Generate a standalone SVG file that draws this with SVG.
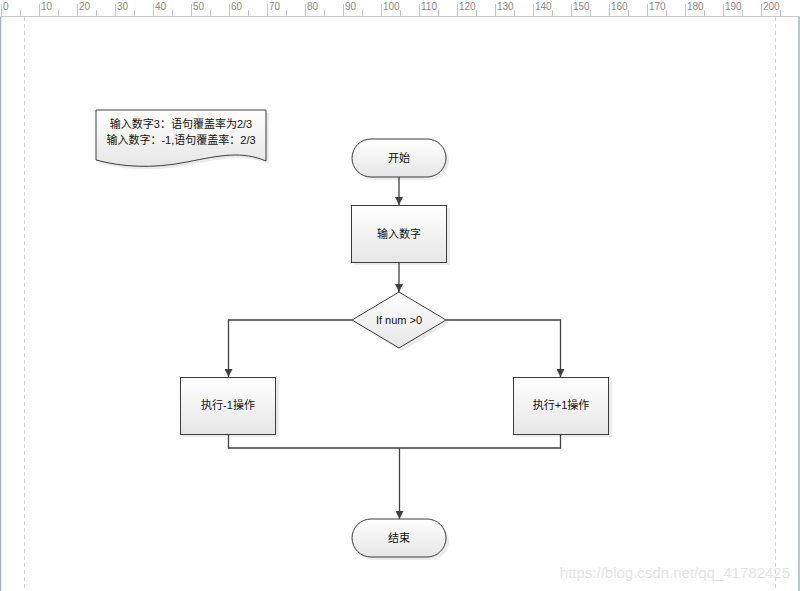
<svg xmlns="http://www.w3.org/2000/svg" width="800" height="591" viewBox="0 0 800 591">
<style>
.rl{font-family:"Liberation Sans",Arial,sans-serif;font-size:10px;fill:#8a8a8a}
.tk{stroke:#c4c4c4;stroke-width:1}
.nd{stroke:#3c3c3c;stroke-width:1;fill:url(#g)}
.tx{font-family:"Liberation Sans","Noto Sans CJK SC",sans-serif;font-size:11px;fill:#111;text-anchor:middle;dominant-baseline:central}
.cn{stroke:#404040;stroke-width:1.3;fill:none}
.sh{fill:#000;opacity:0.08}
</style>
<defs>
<linearGradient id="g" x1="0" y1="0" x2="0" y2="1">
<stop offset="0" stop-color="#ffffff"/>
<stop offset="1" stop-color="#e6e6e6"/>
</linearGradient>
<marker id="ar" viewBox="0 0 10 10" refX="10" refY="5" markerWidth="8" markerHeight="8" markerUnits="userSpaceOnUse" orient="auto">
<path d="M0,0 L10,5 L0,10 z" fill="#404040"/>
</marker>
</defs>
<rect width="800" height="591" fill="#ffffff"/>
<g id="ruler">
<rect x="0" y="0" width="800" height="16" fill="#ffffff"/>
<line x1="0" y1="16.5" x2="800" y2="16.5" stroke="#c8c8c8"/>
<g class="tk">
<path d="M1.5,4V16M39.5,4V16M77.5,4V16M115.5,4V16M153.5,4V16M191.5,4V16M229.5,4V16M267.5,4V16M305.5,4V16M343.5,4V16M381.5,4V16M419.5,4V16M457.5,4V16M495.5,4V16M533.5,4V16M571.5,4V16M609.5,4V16M647.5,4V16M685.5,4V16M723.5,4V16M761.5,4V16"/>
<path d="M20.5,10V16M58.5,10V16M96.5,10V16M134.5,10V16M172.5,10V16M210.5,10V16M248.5,10V16M286.5,10V16M324.5,10V16M362.5,10V16M400.5,10V16M438.5,10V16M476.5,10V16M514.5,10V16M552.5,10V16M590.5,10V16M628.5,10V16M666.5,10V16M704.5,10V16M742.5,10V16M780.5,10V16"/>
</g>
<text class="rl" x="3" y="10">0</text>
<text class="rl" x="41" y="10">10</text>
<text class="rl" x="79" y="10">20</text>
<text class="rl" x="117" y="10">30</text>
<text class="rl" x="155" y="10">40</text>
<text class="rl" x="193" y="10">50</text>
<text class="rl" x="231" y="10">60</text>
<text class="rl" x="269" y="10">70</text>
<text class="rl" x="307" y="10">80</text>
<text class="rl" x="345" y="10">90</text>
<text class="rl" x="383" y="10">100</text>
<text class="rl" x="421" y="10">110</text>
<text class="rl" x="459" y="10">120</text>
<text class="rl" x="497" y="10">130</text>
<text class="rl" x="535" y="10">140</text>
<text class="rl" x="573" y="10">150</text>
<text class="rl" x="611" y="10">160</text>
<text class="rl" x="649" y="10">170</text>
<text class="rl" x="687" y="10">180</text>
<text class="rl" x="725" y="10">190</text>
<text class="rl" x="763" y="10">200</text>
</g>
<g id="page">
<line x1="0.5" y1="17" x2="0.5" y2="591" stroke="#a8b0bc" stroke-width="1.5"/>
<line x1="24.5" y1="17" x2="24.5" y2="591" stroke="#d4d4d4" stroke-dasharray="4,3"/>
<line x1="775.5" y1="17" x2="775.5" y2="591" stroke="#d4d4d4" stroke-dasharray="4,3"/>
<line x1="799" y1="17" x2="799" y2="591" stroke="#a8b0bc" stroke-width="1.5"/>
</g>
<g id="note">
<path class="sh" d="M99,113 H269 V164 C245,154 225,158 190,165 C155,172 125,170 99,163 Z"/>
<path class="nd" d="M96,110 H266 V161 C242,151 222,155 187,162 C152,169 122,167 96,160 Z"/>
<text class="tx" x="181" y="124">输入数字3：语句覆盖率为2/3</text>
<text class="tx" x="181" y="140">输入数字：-1,语句覆盖率：2/3</text>
</g>
<g id="connectors">
<line class="cn" x1="399" y1="177" x2="399" y2="205" marker-end="url(#ar)"/>
<line class="cn" x1="399" y1="262" x2="399" y2="292" marker-end="url(#ar)"/>
<polyline class="cn" points="352,320 228.5,320 228.5,377" marker-end="url(#ar)"/>
<polyline class="cn" points="446,320 560.5,320 560.5,377" marker-end="url(#ar)"/>
<polyline class="cn" points="228.5,434 228.5,448 560.5,448 560.5,434"/>
<line class="cn" x1="399.5" y1="448" x2="399.5" y2="519" marker-end="url(#ar)"/>
</g>
<g id="start">
<rect class="sh" x="355" y="142" width="94" height="38" rx="19"/>
<rect class="nd" x="352" y="139" width="94" height="38" rx="19"/>
<text class="tx" x="399" y="158">开始</text>
</g>
<g id="input">
<rect class="sh" x="354" y="208" width="96" height="57"/>
<rect class="nd" x="351.5" y="205.5" width="95" height="57"/>
<text class="tx" x="399" y="234">输入数字</text>
</g>
<g id="decision">
<polygon class="sh" points="402,295 449,323 402,351 355,323"/>
<polygon class="nd" points="399,292 446,320 399,348 352,320"/>
<text class="tx" x="399" y="320">If num &gt;0</text>
</g>
<g id="minus">
<rect class="sh" x="183" y="380" width="96" height="57"/>
<rect class="nd" x="180.5" y="377.5" width="95" height="57"/>
<text class="tx" x="228" y="405">执行-1操作</text>
</g>
<g id="plus">
<rect class="sh" x="516" y="380" width="96" height="57"/>
<rect class="nd" x="513.5" y="377.5" width="95" height="57"/>
<text class="tx" x="561" y="405">执行+1操作</text>
</g>
<g id="end">
<rect class="sh" x="355" y="522" width="94" height="38" rx="19"/>
<rect class="nd" x="352" y="519" width="94" height="38" rx="19"/>
<text class="tx" x="399" y="538">结束</text>
</g>
<text x="790" y="578" font-family="Liberation Sans,Arial,sans-serif" font-size="15" fill="#e4e4e4" text-anchor="end">https://blog.csdn.net/qq_41782425</text>
</svg>
